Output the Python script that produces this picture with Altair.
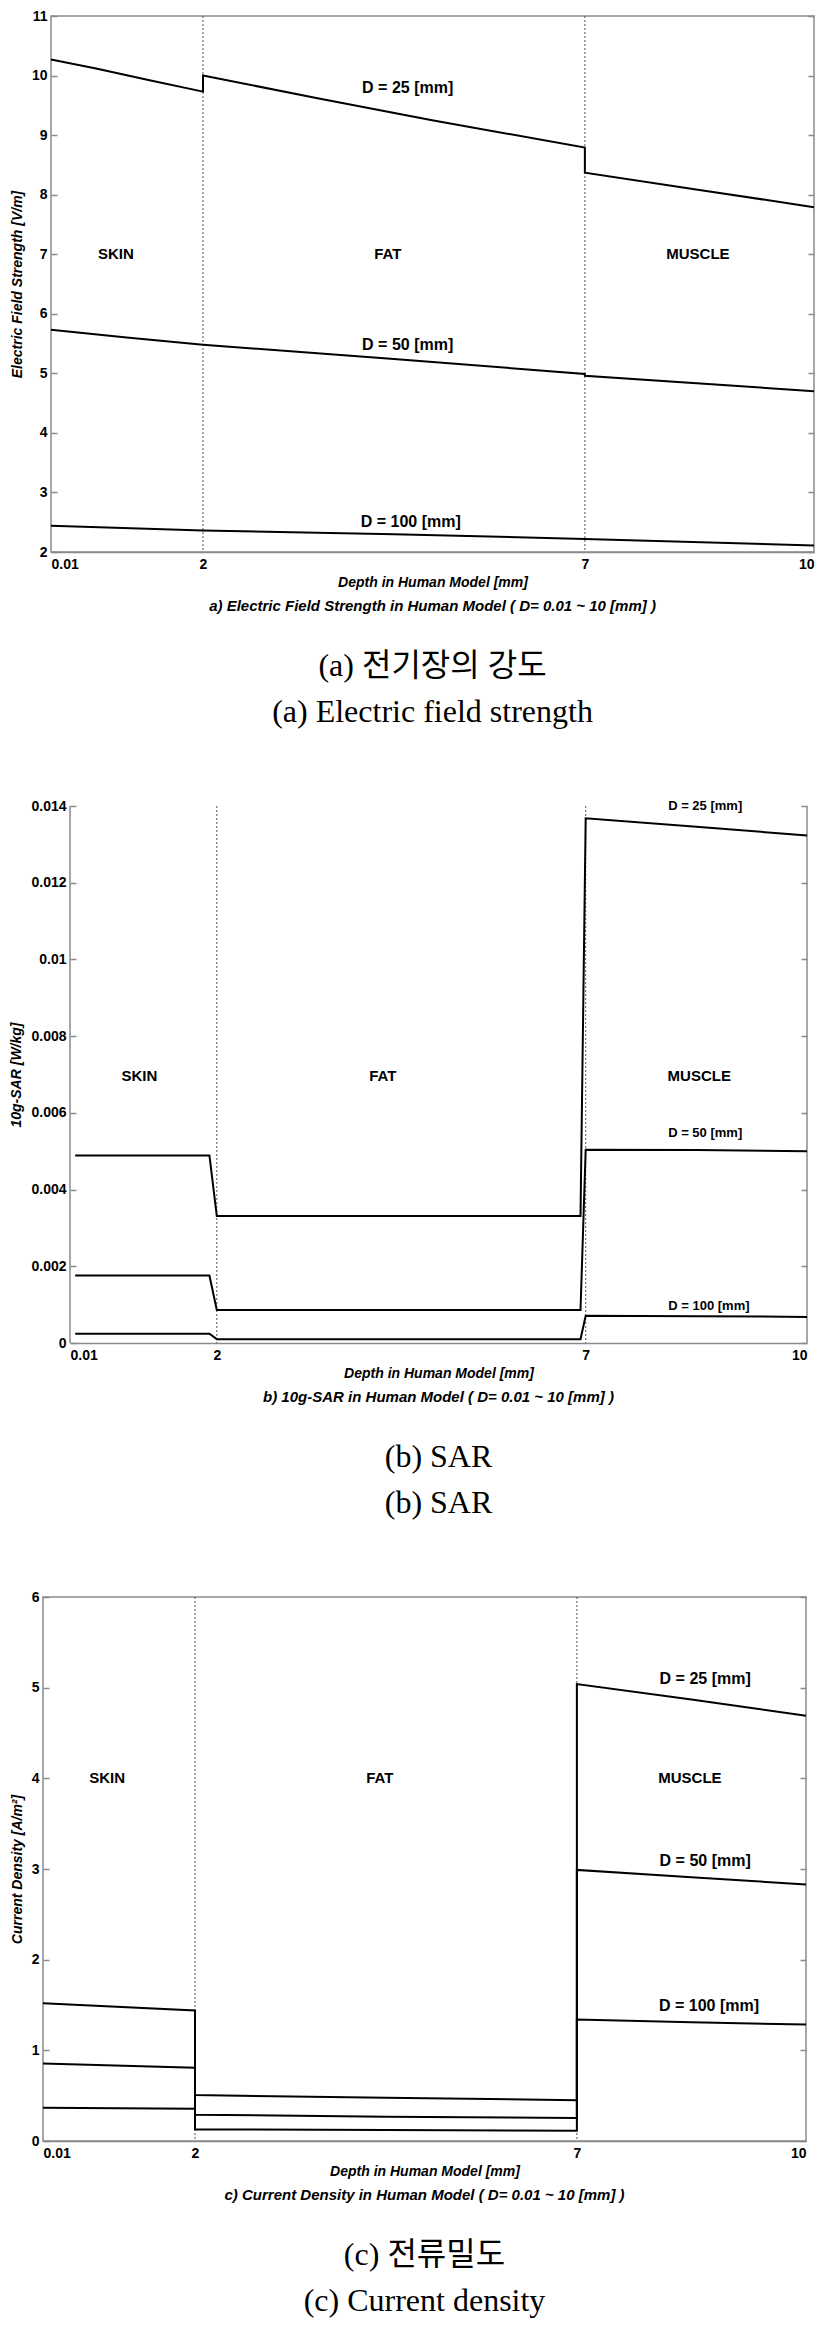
import altair as alt
import pandas as pd

# ---------------- data ----------------
SERIES = ["D = 25 [mm]", "D = 50 [mm]", "D = 100 [mm]"]
TICK_X = [0.01, 2, 7, 10]
BOUNDARIES = [2, 7]
FRAME_X = [0.01, 10]
REGIONS = ["SKIN", "FAT", "MUSCLE"]

# (a) electric field strength [V/m]
A_X25 = [0.01, 0.6, 1.3, 2, 2, 3.5, 5, 7, 7, 8.5, 10]
A_Y25 = [10.27, 10.12, 9.92, 9.73, 10.0, 9.62, 9.25, 8.79, 8.37, 8.08, 7.79]
A_X50 = [0.01, 1, 2, 4.5, 7, 7, 10]
A_Y50 = [5.73, 5.60, 5.48, 5.24, 4.99, 4.96, 4.70]
A_X100 = [0.01, 2, 4.5, 7, 10]
A_Y100 = [2.44, 2.36, 2.30, 2.22, 2.11]
A_YTICKS = [2, 3, 4, 5, 6, 7, 8, 9, 10, 11]
A_REG_X = [0.86, 4.42, 8.48]
A_REG_Y = [7.0, 7.0, 7.0]
A_LAB_X = [4.68, 4.68, 4.72]
A_LAB_Y = [9.79, 5.48, 2.50]

# (b) 10g-SAR [W/kg]
B_X25 = [0.08, 1.9, 2.0, 6.93, 7.0, 8.5, 10]
B_Y25 = [0.00489, 0.00489, 0.00331, 0.00331, 0.01368, 0.01346, 0.01323]
B_X50 = [0.08, 1.9, 2.0, 6.93, 7.0, 8.5, 10]
B_Y50 = [0.00176, 0.00176, 0.00086, 0.00086, 0.00504, 0.00503, 0.00500]
B_X100 = [0.08, 1.9, 2.0, 6.93, 7.0, 8.5, 10]
B_Y100 = [0.00024, 0.00024, 0.00010, 0.00010, 0.00071, 0.00070, 0.00068]
B_YTICKS = [0, 0.002, 0.004, 0.006, 0.008, 0.01, 0.012, 0.014]
B_REG_X = [0.95, 4.25, 8.54]
B_REG_Y = [0.00697, 0.00697, 0.00697]
B_LAB_X = [8.62, 8.62, 8.67]
B_LAB_Y = [0.0140, 0.00548, 0.00096]

# (c) current density [A/m^2]
C_X25 = [0.01, 2, 2, 4.5, 7, 7, 8.5, 10]
C_Y25 = [1.52, 1.44, 0.506, 0.478, 0.45, 5.04, 4.87, 4.69]
C_X50 = [0.01, 2, 2, 4.5, 7, 7, 8.5, 10]
C_Y50 = [0.855, 0.807, 0.29, 0.268, 0.253, 2.99, 2.91, 2.83]
C_X100 = [0.01, 2, 2, 4.5, 7, 7, 8.5, 10]
C_Y100 = [0.367, 0.356, 0.128, 0.121, 0.114, 1.339, 1.31, 1.284]
C_YTICKS = [0, 1, 2, 3, 4, 5, 6]
C_REG_X = [0.85, 4.42, 8.48]
C_REG_Y = [4.0, 4.0, 4.0]
C_LAB_X = [8.68, 8.68, 8.73]
C_LAB_Y = [5.10, 3.09, 1.49]

GRAY = "#8a8a8a"
SANS = "Liberation Sans"
KFONT = "Liberation Serif, Noto Sans CJK KR"


def lines_df(xs_list, ys_list):
    rows = []
    for s, xs, ys in zip(SERIES, xs_list, ys_list):
        for i, (x, y) in enumerate(zip(xs, ys)):
            rows.append({"x": x, "y": y, "series": s, "order": i})
    return pd.DataFrame(rows)


def panel(df, reg_x, reg_y, lab_x, lab_y, lab_size, ydom, yticks, ytitle,
          w, h, title, subtitle, boxed):
    xenc = alt.X(
        "x:Q",
        scale=alt.Scale(domain=[0.01, 10], nice=False, zero=False),
        axis=alt.Axis(values=TICK_X,
                      labelExpr="datum.value == 0.01 ? '0.01' : format(datum.value, 'd')",
                      title="Depth in Human Model [mm]",
                      grid=False, tickSize=0, labelPadding=5, titlePadding=4,
                      domain=True, domainColor=GRAY, domainWidth=1.5),
    )
    ysc = alt.Scale(domain=ydom, nice=False, zero=False)

    lines = alt.Chart(df).mark_line(color="black", strokeWidth=2).encode(
        x=xenc,
        y=alt.Y("y:Q", scale=ysc,
                axis=alt.Axis(values=yticks, format="~g", title=ytitle, orient="left",
                              offset=-6, tickSize=6, labelPadding=4, titlePadding=7,
                              domain=False, grid=False)),
        detail="series:N",
        order=alt.Order("order:Q"),
    )

    bdf = pd.DataFrame({"x": BOUNDARIES})
    bounds = alt.Chart(bdf).mark_rule(color="#555555", strokeWidth=1,
                                      strokeDash=[2, 2]).encode(x=xenc)

    rdf = pd.DataFrame({"x": reg_x, "y": reg_y, "name": REGIONS})
    regions = alt.Chart(rdf).mark_text(font=SANS, fontWeight="bold", fontSize=15,
                                       color="black").encode(
        x=xenc, y=alt.Y("y:Q", scale=ysc, axis=None), text="name:N")

    ldf = pd.DataFrame({"x": lab_x, "y": lab_y, "name": SERIES})
    labels = alt.Chart(ldf).mark_text(font=SANS, fontWeight="bold", fontSize=lab_size,
                                      color="black").encode(
        x=xenc,
        y=alt.Y("y:Q", scale=ysc,
                axis=alt.Axis(values=yticks, orient="right", labels=False, title=None,
                              offset=-6, tickSize=6, domain=False, grid=False)),
        text="name:N")

    layers = [bounds, lines, regions, labels]
    props = dict(width=w, height=h,
                 title=alt.TitleParams(text=title, subtitle=subtitle, orient="bottom",
                                       anchor="middle"))
    if not boxed:
        fdf = pd.DataFrame({"x": FRAME_X})
        frame = alt.Chart(fdf).mark_rule(color=GRAY, strokeWidth=1.5).encode(x=xenc)
        layers = [frame] + layers
        props["view"] = alt.ViewBackground(stroke=None)

    return alt.layer(*layers).resolve_axis(y="independent").properties(**props)


def spacer():
    # invisible 1px cell so that each row is laid out from its own left edge
    return alt.Chart(pd.DataFrame({"v": [0]})).mark_point(opacity=0, size=0).encode(
        x=alt.X("v:Q", axis=None), y=alt.Y("v:Q", axis=None)
    ).properties(width=1, height=1, view=alt.ViewBackground(stroke=None))


pa = panel(lines_df([A_X25, A_X50, A_X100], [A_Y25, A_Y50, A_Y100]),
           A_REG_X, A_REG_Y, A_LAB_X, A_LAB_Y, 16, [2, 11], A_YTICKS,
           "Electric Field Strength [V/m]", 763, 536,
           "a) Electric Field Strength in Human Model ( D= 0.01 ~ 10 [mm] )",
           ["(a)  전기장의  강도", "(a)  Electric  field  strength"], True)

pb = panel(lines_df([B_X25, B_X50, B_X100], [B_Y25, B_Y50, B_Y100]),
           B_REG_X, B_REG_Y, B_LAB_X, B_LAB_Y, 13, [0, 0.014], B_YTICKS,
           "10g-SAR [W/kg]", 737, 537,
           "b) 10g-SAR in Human Model ( D= 0.01 ~ 10 [mm] )",
           ["(b)  SAR", "(b)  SAR"], False)

pc = panel(lines_df([C_X25, C_X50, C_X100], [C_Y25, C_Y50, C_Y100]),
           C_REG_X, C_REG_Y, C_LAB_X, C_LAB_Y, 16, [0, 6], C_YTICKS,
           "Current Density [A/m²]", 763, 544,
           "c) Current Density in Human Model ( D= 0.01 ~ 10 [mm] )",
           ["(c)  전류밀도", "(c)  Current  density"], True)

chart = (
    alt.vconcat(
        alt.hconcat(spacer(), pa, spacing=0),
        alt.hconcat(spacer(), pb, spacing=0),
        alt.hconcat(spacer(), pc, spacing=0),
        spacing=70,
    )
    .configure(padding={"left": 0, "top": 0, "right": 0, "bottom": 0})
    .configure_view(stroke=GRAY, strokeWidth=1.5)
    .configure_axis(labelFont=SANS, labelFontWeight="bold", labelFontSize=14,
                    labelColor="black", titleFont=SANS, titleFontWeight="bold",
                    titleFontStyle="italic", titleFontSize=14, titleColor="black",
                    tickColor=GRAY, tickWidth=1.5)
    .configure_title(font=SANS, fontSize=15, fontStyle="italic", fontWeight="bold",
                     color="black", offset=10, subtitleFont=KFONT,
                     subtitleFontSize=32, subtitleColor="black", subtitlePadding=37,
                     subtitleLineHeight=46)
)

chart.save("out.html", embed_options={"renderer": "svg", "actions": False})
